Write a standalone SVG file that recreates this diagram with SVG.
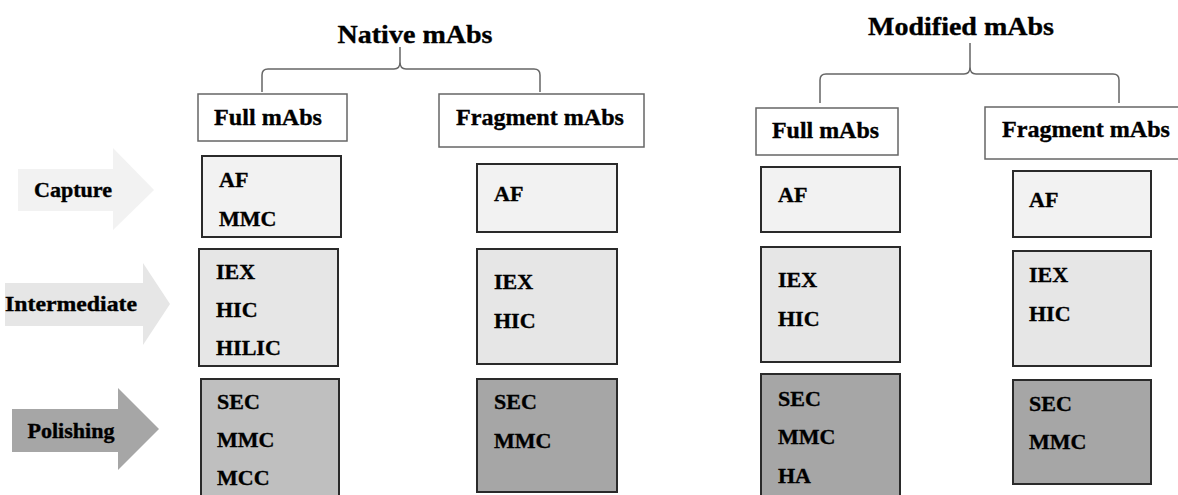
<svg xmlns="http://www.w3.org/2000/svg" width="1178" height="495" viewBox="0 0 1178 495">
<style>
text{font-family:"Liberation Serif","Times New Roman",serif;font-weight:bold;fill:#000;stroke:#000;stroke-width:0.35}
.item{font-size:22px}
.hdr{font-size:24px}
.title{font-size:26px}
.lbl{font-size:20px}
.hbox{fill:#fff;stroke:#666;stroke-width:1.5}
.box{stroke:#2a2a2a;stroke-width:2}
.c1{fill:#f2f2f2}
.c2{fill:#e6e6e6}
.c3{fill:#bfbfbf}
.c4{fill:#a6a6a6}
.brace{fill:none;stroke:#666;stroke-width:1.5}
</style>
<g id="stages">
<g id="arrow-capture"><polygon class="c1" points="18,169 113,169 113,148 154,190 113,230 113,211 18,211"/><text class="lbl" x="73" y="197" text-anchor="middle" textLength="78" lengthAdjust="spacingAndGlyphs">Capture</text></g>
<g id="arrow-intermediate"><polygon class="c2" points="5,283 143,283 143,263 170,304 143,345 143,326 5,326"/><text class="lbl" x="71" y="311" text-anchor="middle" textLength="132" lengthAdjust="spacingAndGlyphs">Intermediate</text></g>
<g id="arrow-polishing"><polygon class="c4" points="12,409 118,409 118,388 159,429 118,470 118,452 12,452"/><text class="lbl" x="71" y="438" text-anchor="middle" textLength="87" lengthAdjust="spacingAndGlyphs">Polishing</text></g>
</g>
<g id="titles">
<g id="native-title"><text class="title" x="415" y="43" text-anchor="middle" textLength="155" lengthAdjust="spacingAndGlyphs">Native mAbs</text></g>
<g id="modified-title"><text class="title" x="961" y="35" text-anchor="middle" textLength="186" lengthAdjust="spacingAndGlyphs">Modified mAbs</text></g>
</g>
<g id="connectors">
<path class="brace" d="M262,92 V75 Q262,69 268,69 H394 Q400,69 400,62 V47 M400,62 Q400,69 406,69 H534 Q540,69 540,75 V92"/>
<path class="brace" d="M820,103 V80 Q820,74 826,74 H964 Q970,74 970,67 V43 M970,67 Q970,74 976,74 H1113 Q1119,74 1119,80 V103"/>
</g>
<g id="native-full-hdr"><rect class="hbox" x="198" y="94" width="149" height="47"/><text class="hdr" x="214" y="125" textLength="108" lengthAdjust="spacingAndGlyphs">Full mAbs</text></g>
<g id="native-frag-hdr"><rect class="hbox" x="439" y="94" width="205" height="53"/><text class="hdr" x="456" y="125" textLength="168" lengthAdjust="spacingAndGlyphs">Fragment mAbs</text></g>
<g id="mod-full-hdr"><rect class="hbox" x="756" y="108" width="142" height="47"/><text class="hdr" x="772" y="138" textLength="107" lengthAdjust="spacingAndGlyphs">Full mAbs</text></g>
<g id="mod-frag-hdr"><rect class="hbox" x="985" y="107" width="210" height="52"/><text class="hdr" x="1002" y="137" textLength="168" lengthAdjust="spacingAndGlyphs">Fragment mAbs</text></g>

<g id="nf-capture"><rect class="box c1" x="202" y="156" width="139" height="81"/><text class="item" x="219" y="187">AF</text><text class="item" x="219" y="226">MMC</text></g>
<g id="nf-intermediate"><rect class="box c2" x="199" y="249" width="139" height="117"/><text class="item" x="216" y="279">IEX</text><text class="item" x="216" y="317">HIC</text><text class="item" x="216" y="355">HILIC</text></g>
<g id="nf-polishing"><rect class="box c3" x="201" y="379" width="138" height="130"/><text class="item" x="217" y="409">SEC</text><text class="item" x="217" y="447">MMC</text><text class="item" x="217" y="485">MCC</text></g>

<g id="nfr-capture"><rect class="box c1" x="477" y="164" width="140" height="68"/><text class="item" x="494" y="201">AF</text></g>
<g id="nfr-intermediate"><rect class="box c2" x="477" y="249" width="140" height="115"/><text class="item" x="494" y="289">IEX</text><text class="item" x="494" y="328">HIC</text></g>
<g id="nfr-polishing"><rect class="box c4" x="477" y="379" width="140" height="113"/><text class="item" x="494" y="409">SEC</text><text class="item" x="494" y="448">MMC</text></g>

<g id="mf-capture"><rect class="box c1" x="761" y="167" width="139" height="65"/><text class="item" x="778" y="202">AF</text></g>
<g id="mf-intermediate"><rect class="box c2" x="761" y="247" width="139" height="115"/><text class="item" x="778" y="287">IEX</text><text class="item" x="778" y="326">HIC</text></g>
<g id="mf-polishing"><rect class="box c4" x="761" y="374" width="139" height="135"/><text class="item" x="778" y="406">SEC</text><text class="item" x="778" y="444">MMC</text><text class="item" x="778" y="483">HA</text></g>

<g id="mfr-capture"><rect class="box c1" x="1013" y="171" width="138" height="66"/><text class="item" x="1029" y="207">AF</text></g>
<g id="mfr-intermediate"><rect class="box c2" x="1013" y="251" width="138" height="115"/><text class="item" x="1029" y="282">IEX</text><text class="item" x="1029" y="321">HIC</text></g>
<g id="mfr-polishing"><rect class="box c4" x="1013" y="380" width="138" height="104"/><text class="item" x="1029" y="411">SEC</text><text class="item" x="1029" y="449">MMC</text></g>
</svg>
